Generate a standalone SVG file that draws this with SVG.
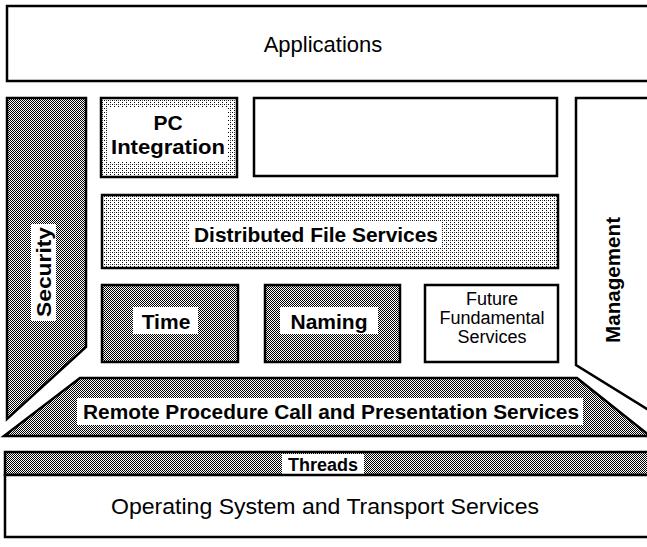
<svg xmlns="http://www.w3.org/2000/svg" width="647" height="547" viewBox="0 0 647 547">
<style>
.box{stroke:#000;stroke-width:2.5;stroke-linejoin:miter}
.w{fill:#fff}
.dk{fill:url(#dark)}
.lt{fill:url(#light)}
.lbl{fill:#fff;stroke:none}
text{font-family:"Liberation Sans",Arial,sans-serif;fill:#000;text-anchor:middle}
.b{font-weight:bold;font-size:21px}
.r{font-size:18px}
</style>
<defs>
<pattern id="dark" patternUnits="userSpaceOnUse" width="2" height="2">
<rect width="2" height="2" fill="#fff"/>
<rect x="0" y="0" width="1" height="1" fill="#000"/>
<rect x="1" y="1" width="1" height="1" fill="#000"/>
</pattern>
<pattern id="light" patternUnits="userSpaceOnUse" width="4" height="4">
<rect width="4" height="4" fill="#fff"/>
<rect x="0" y="0" width="1" height="1" fill="#000"/>
<rect x="2" y="2" width="1" height="1" fill="#000"/>
<rect x="2" y="0" width="1" height="1" fill="#555"/>
</pattern>
</defs>
<rect width="647" height="547" fill="#fff"/>

<g id="applications">
<rect class="box w" x="7" y="6" width="645" height="75"/>
<text x="323" y="52" style="font-size:22px">Applications</text>
</g>

<g id="security">
<polygon class="box dk" points="7,98 86,98 86,347 7,419"/>
<rect class="lbl" x="31" y="224" width="25" height="97"/>
<text class="b" transform="translate(51,272) rotate(-90)" textLength="90" lengthAdjust="spacingAndGlyphs">Security</text>
</g>

<g id="management">
<polygon class="box w" points="576,98 652,98 652,412 576,365"/>
<text class="b" style="font-size:20px" transform="translate(620,280) rotate(-90)" textLength="126" lengthAdjust="spacingAndGlyphs">Management</text>
</g>

<g id="pc-integration">
<rect class="box lt" x="101" y="98" width="136" height="79"/>
<rect class="lbl" x="108" y="107" width="120" height="55"/>
<text class="b" x="168" y="130">PC</text>
<text class="b" x="168" y="154" textLength="114" lengthAdjust="spacingAndGlyphs">Integration</text>
</g>

<g id="blank">
<rect class="box w" x="254" y="98" width="303" height="78"/>
</g>

<g id="distributed-file-services">
<rect class="box lt" x="102" y="195" width="456" height="73"/>
<rect class="lbl" x="190" y="222" width="252" height="25"/>
<text class="b" x="316" y="242" textLength="244" lengthAdjust="spacingAndGlyphs">Distributed File Services</text>
</g>

<g id="time">
<rect class="box dk" x="102" y="285" width="136" height="77"/>
<rect class="lbl" x="133" y="307" width="65" height="27"/>
<text class="b" x="166" y="329">Time</text>
</g>

<g id="naming">
<rect class="box dk" x="265" y="285" width="135" height="77"/>
<rect class="lbl" x="280" y="307" width="98" height="27"/>
<text class="b" x="329" y="329">Naming</text>
</g>

<g id="future">
<rect class="box w" x="425" y="285" width="133" height="77"/>
<text class="r" x="492" y="305">Future</text>
<text class="r" x="492" y="324">Fundamental</text>
<text class="r" x="492" y="343">Services</text>
</g>

<g id="rpc">
<polygon class="box dk" points="80,378 577,378 650,436 4,436"/>
<rect class="lbl" x="77" y="398" width="506" height="27"/>
<text class="b" x="331" y="419" textLength="496" lengthAdjust="spacingAndGlyphs">Remote Procedure Call and Presentation Services</text>
</g>

<g id="threads">
<rect class="box dk" x="5" y="452" width="647" height="23"/>
<rect class="lbl" x="282" y="454" width="82" height="20"/>
<text class="b" x="323" y="471" style="font-size:18px">Threads</text>
</g>

<g id="os">
<rect class="box w" x="5" y="475" width="647" height="62"/>
<text x="325" y="514" style="font-size:22px" textLength="428" lengthAdjust="spacingAndGlyphs">Operating System and Transport Services</text>
</g>

<g id="connectors"></g>
</svg>
